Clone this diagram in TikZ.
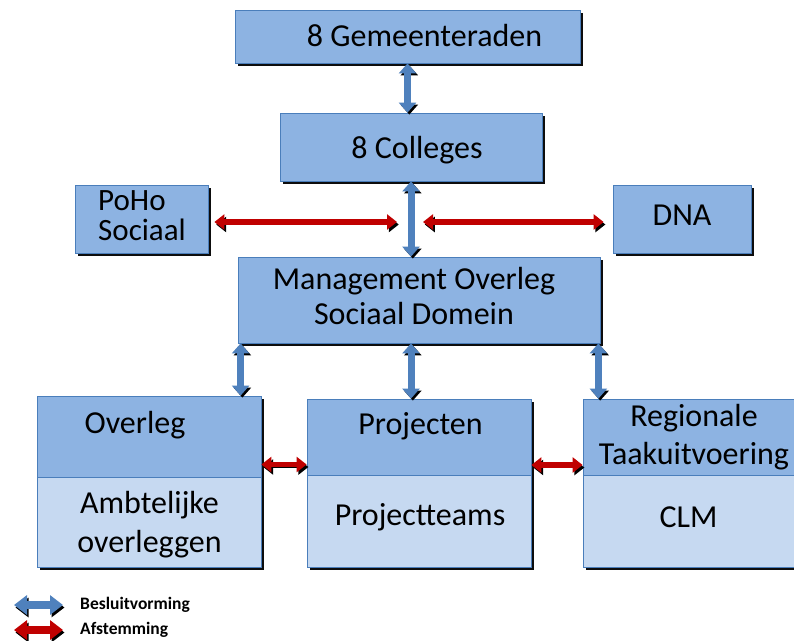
\documentclass[tikz,border=0pt]{standalone}
\usepackage{fontspec}
\setmainfont{Carlito}
\usetikzlibrary{arrows.meta,shadows,calc}
\definecolor{boxfill}{HTML}{8DB3E2}
\definecolor{lowfill}{HTML}{C6D9F1}
\definecolor{boxline}{HTML}{4A7EBB}
\definecolor{arrblue}{HTML}{4F81BD}
\definecolor{arrred}{HTML}{C00000}
\tikzset{
  box/.style={draw=boxline, line width=0.8pt, fill=boxfill, inner sep=0pt,
    drop shadow={shadow xshift=2.5pt, shadow yshift=-3pt, fill=black, opacity=0.95}},
  lowpart/.style={draw=boxline, line width=0.8pt, fill=lowfill, inner sep=0pt},
  txt/.style={font=\fontsize{32}{39}\selectfont, inner sep=0pt, align=center},
  legtxt/.style={font=\bfseries\fontsize{17.5}{20}\selectfont, inner sep=0pt, anchor=west},
  barrow/.style={line width=7pt, draw=arrblue,
    {Triangle[width=17pt,length=10pt]}-{Triangle[width=17pt,length=10pt]},
    preaction={draw=black, transform canvas={shift={(1.8pt,-2pt)}}}},
  rarrow/.style={line width=5.5pt, draw=arrred,
    {Triangle[width=15pt,length=10pt]}-{Triangle[width=15pt,length=10pt]},
    preaction={draw=black, transform canvas={shift={(1.8pt,-2.5pt)}}}},
  blegend/.style={line width=8pt, draw=arrblue,
    {Triangle[width=19pt,length=13pt]}-{Triangle[width=19pt,length=13pt]},
    preaction={draw=black, transform canvas={shift={(1.5pt,-2.5pt)}}}},
  rlegend/.style={line width=8pt, draw=arrred,
    {Triangle[width=19pt,length=13pt]}-{Triangle[width=19pt,length=13pt]},
    preaction={draw=black, transform canvas={shift={(1.5pt,-2.5pt)}}}},
}
\begin{document}
\begin{tikzpicture}[x=1pt,y=-1pt]
\clip (0,0) rectangle (794,640);
\fill[white] (0,0) rectangle (794,640);

% boxes
\node[box, minimum width=345pt, minimum height=53pt] (gem) at (407.5,36.5) {};
\node[txt] (gemT) at (424.5,36) {8 Gemeenteraden};

\node[box, minimum width=262pt, minimum height=68pt] (col) at (411,147) {};
\node[txt] (colT) at (417,150) {8 Colleges};

\node[box, minimum width=133pt, minimum height=68pt] (poho) at (141.5,219) {};
\node[txt, font=\fontsize{31}{30}\selectfont, align=left, anchor=west] (pohoT) at (98,216) {PoHo\\Sociaal};

\node[box, minimum width=138pt, minimum height=68pt] (dna) at (682,219) {};
\node[txt] (dnaT) at (682,215) {DNA};

\node[box, minimum width=362pt, minimum height=86pt] (mo) at (419,300) {};
\node[txt, font=\fontsize{32}{35}\selectfont] (moT) at (414,296) {Management Overleg\\Sociaal Domein};

% bottom boxes
\node[box, minimum width=224pt, minimum height=171pt] (ov) at (149,481.5) {};
\node[lowpart, minimum width=224pt, minimum height=90pt] (ovL) at (149,522) {};
\node[txt] (ovT) at (135,425) {Overleg};
\node[txt, font=\fontsize{32}{39}\selectfont] (ovLT) at (149.5,525) {Ambtelijke\\overleggen};

\node[box, minimum width=224pt, minimum height=168pt] (pr) at (419,483) {};
\node[lowpart, minimum width=224pt, minimum height=92pt] (prL) at (419,521) {};
\node[txt] (prT) at (420.5,426) {Projecten};
\node[txt] (prLT) at (420,517) {Projectteams};

\node[box, minimum width=227pt, minimum height=168pt] (rg) at (696.5,483) {};
\node[lowpart, minimum width=227pt, minimum height=92pt] (rgL) at (696.5,521) {};
\node[txt, font=\fontsize{32}{38}\selectfont] (rgT) at (694,437) {Regionale\\Taakuitvoering};
\node[txt] (rgLT) at (688.5,517) {CLM};

% blue vertical arrows
\draw[barrow] (gem.south) -- (gem.south |- col.north);
\draw[barrow] (col.south) -- (col.south |- mo.north);
\coordinate (m1) at ([xshift=3pt]mo.south west);
\coordinate (m2) at (mo.south -| col.south);
\coordinate (m3) at ([xshift=-2pt]mo.south east);
\draw[barrow] (m1) -- (m1 |- ov.north);
\draw[barrow] (m2) -- (m2 |- pr.north);
\draw[barrow] (m3) -- (m3 |- rg.north);

% red arrows
\coordinate (ja) at (397,222);
\coordinate (jb) at (423,222);
\draw[rarrow] ([xshift=6pt,yshift=-3pt]poho.east) -- (ja);
\draw[rarrow] (jb) -- ([xshift=-9pt,yshift=-3pt]dna.west);
\coordinate (h1) at ([yshift=17pt]ov.east);
\coordinate (h2) at ([yshift=18pt]pr.east);
\draw[rarrow] (h1) -- (h1 -| pr.west);
\draw[rarrow] (h2) -- (h2 -| rg.west);

% legend
\coordinate (lb1) at (14,605);
\coordinate (lb2) at (63,605);
\coordinate (lr1) at (14,630);
\coordinate (lr2) at (63,630);
\draw[blegend] (lb1) -- (lb2);
\draw[rlegend] (lr1) -- (lr2);
\node[legtxt] (lbT) at (80,605) {Besluitvorming};
\node[legtxt] (lrT) at (80,630) {Afstemming};
\end{tikzpicture}
\end{document}
